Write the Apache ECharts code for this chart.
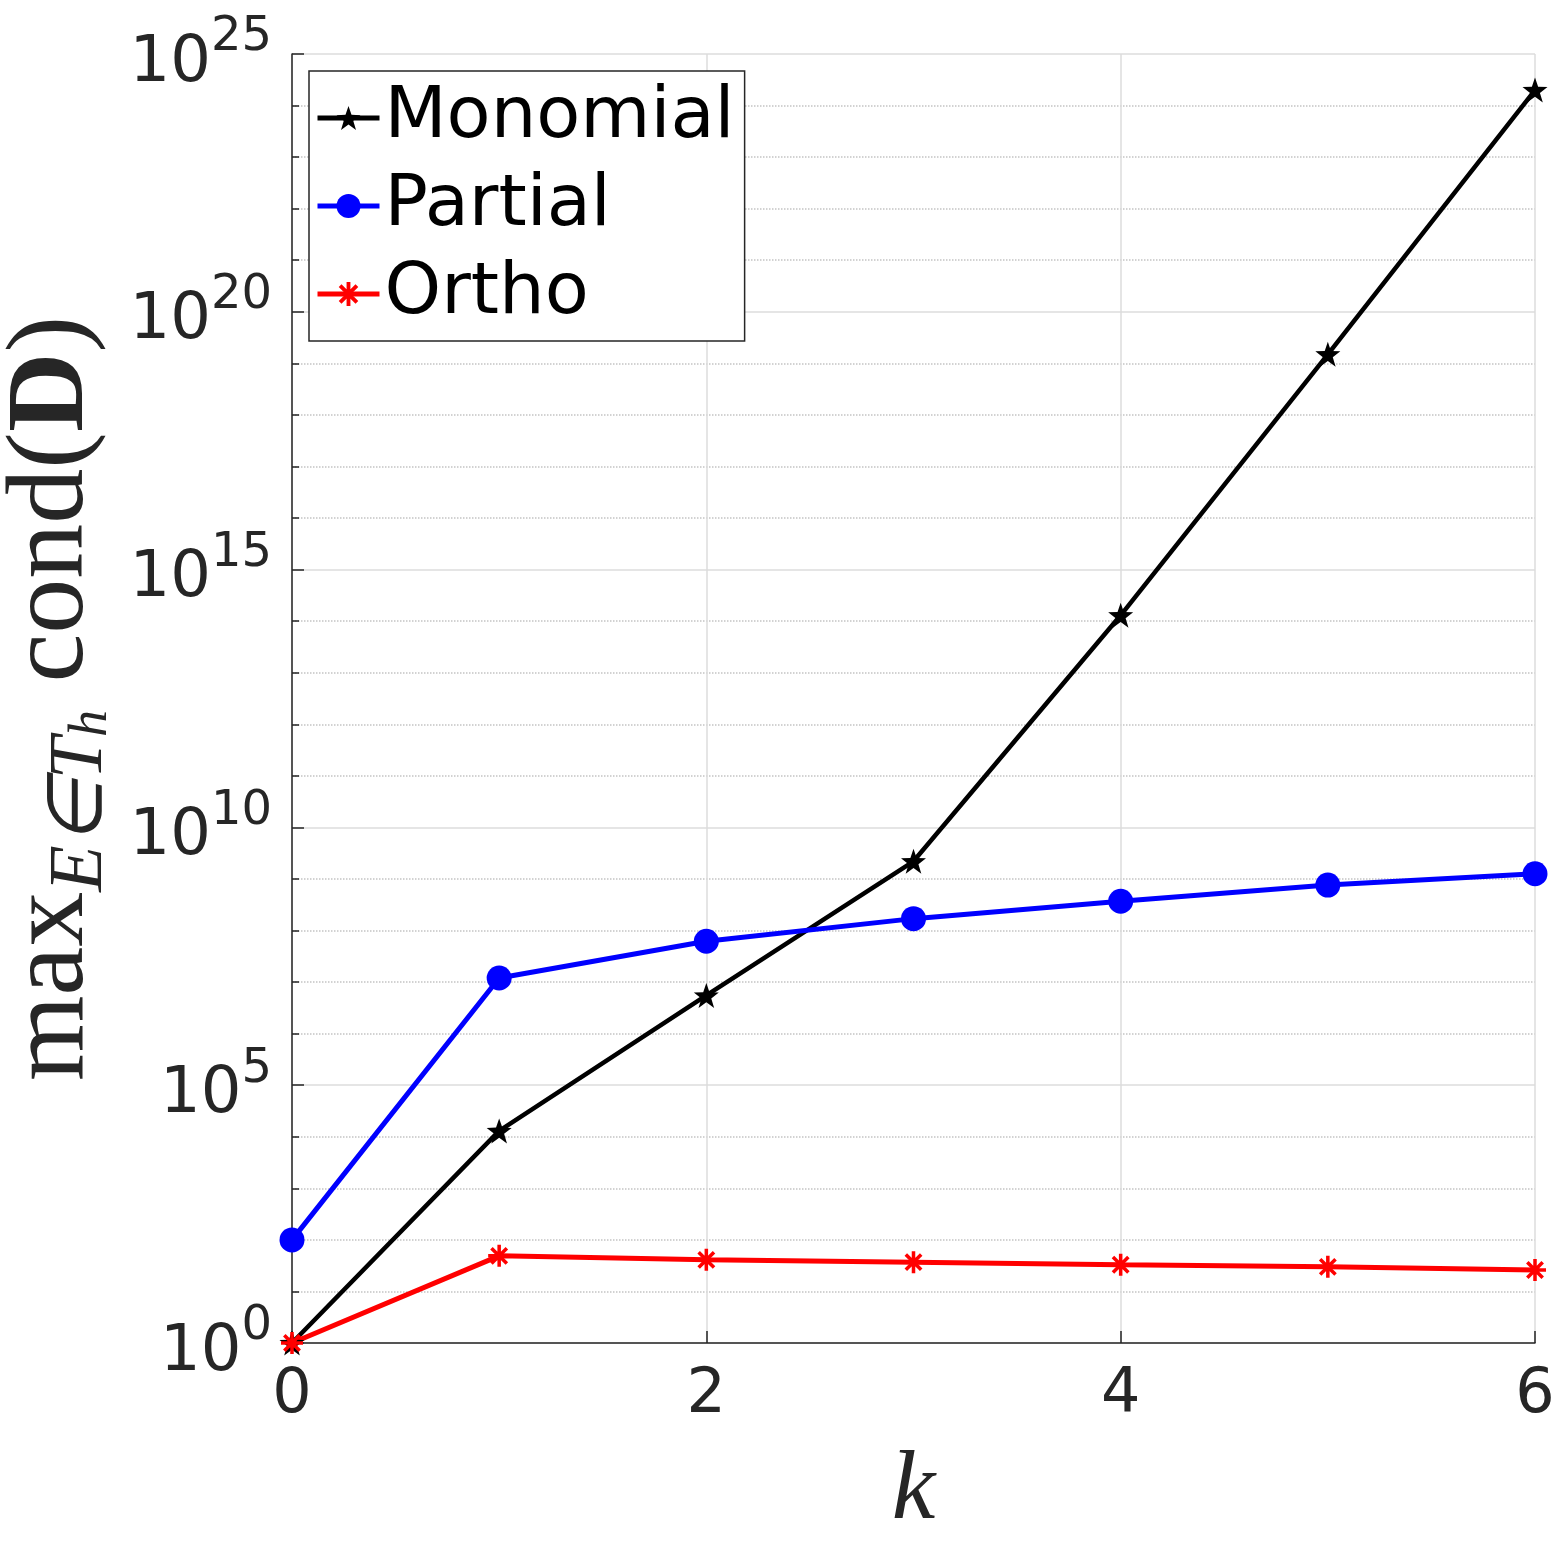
<!DOCTYPE html>
<html>
<head>
<meta charset="utf-8">
<script src="https://cdn.jsdelivr.net/npm/echarts@6/dist/echarts.min.js"></script>
<style>
  html, body { margin: 0; padding: 0; background: #fff; }
  #main { width: 1563px; height: 1563px; }
</style>
</head>
<body>
<div id="main"></div>
<script>
// polynomial degree k
const kValues = [0, 1, 2, 3, 4, 5, 6];

// max condition number per basis
const monomial = [1, 1.3e4, 5.5e6, 2.2e9, 1.3e14, 1.5e19, 2.0e24];
const partial = [1.0e2, 1.2e7, 6.2e7, 1.7e8, 3.7e8, 7.6e8, 1.26e9];
const ortho = [1, 49, 41, 37, 33, 30, 26];

// tick labels (powers of ten on y, k on x)
const yTickPowers = [0, 5, 10, 15, 20, 25];
const xTicks = [0, 2, 4, 6];

const STAR = 'path://M50,0 L62,34 L98,35 L69,57 L80,92 L50,71 L20,92 L31,57 L2,35 L38,34 Z';
const ASTERISK = 'path://M42,0 L58,0 L58,100 L42,100 Z M0,42 L100,42 L100,58 L0,58 Z ' +
  'M20.7,9.3 L90.7,79.3 L79.3,90.7 L9.3,20.7 Z M90.7,20.7 L20.7,90.7 L9.3,79.3 L79.3,9.3 Z';

const axisColor = '#262626';

// y axis is plotted in log10 space, labels shown as 10^n
function toLog(arr) {
  return kValues.map((k, i) => [k, Math.log10(arr[i])]);
}

const chart = echarts.init(document.getElementById('main'));
chart.setOption({
  animation: false,
  grid: { left: 292, right: 28, top: 54, bottom: 220, containLabel: false, outerBoundsMode: 'none' },
  legend: {
    left: 309,
    top: 71,
    orient: 'vertical',
    padding: [11, 10, 11, 6],
    itemGap: 16,
    itemWidth: 62,
    itemHeight: 30,
    backgroundColor: '#fff',
    borderColor: axisColor,
    borderWidth: 1.5,
    lineStyle: { width: 5 },
    textStyle: { fontFamily: 'DejaVu Sans', fontSize: 72, lineHeight: 72, color: '#000' },
    data: ['Monomial', 'Partial', 'Ortho']
  },
  xAxis: {
    type: 'value',
    min: xTicks[0],
    max: xTicks[xTicks.length - 1],
    interval: 2,
    name: 'k',
    nameLocation: 'middle',
    nameGap: 100,
    nameTextStyle: { fontFamily: 'Liberation Serif', fontStyle: 'italic', fontSize: 98, color: axisColor },
    axisLine: { lineStyle: { color: axisColor, width: 1.5 } },
    axisTick: { inside: true, length: 12, lineStyle: { color: axisColor, width: 1.5 } },
    axisLabel: { margin: 22, fontFamily: 'DejaVu Sans', fontSize: 62, color: axisColor },
    splitLine: { show: true, lineStyle: { color: '#dcdcdc', width: 1.5 } }
  },
  yAxis: {
    type: 'value',
    min: yTickPowers[0],
    max: yTickPowers[yTickPowers.length - 1],
    interval: 5,
    name: '{m|max}{s|E∈T}{h|h}{m| cond(}{d|D}{m|)}',
    nameLocation: 'middle',
    nameRotate: 90,
    nameGap: 168,
    nameTextStyle: {
      rich: {
        m: { fontFamily: 'Liberation Serif', fontSize: 110, lineHeight: 130, color: axisColor },
        d: { fontFamily: 'Liberation Serif', fontWeight: 'bold', fontSize: 110, lineHeight: 130, color: axisColor },
        s: { fontFamily: 'Liberation Serif', fontStyle: 'italic', fontSize: 76, lineHeight: 74, verticalAlign: 'bottom', color: axisColor },
        h: { fontFamily: 'Liberation Serif', fontStyle: 'italic', fontSize: 54, lineHeight: 40, verticalAlign: 'bottom', color: axisColor }
      }
    },
    axisLine: { show: true, lineStyle: { color: axisColor, width: 1.5 } },
    axisTick: { inside: true, length: 12, lineStyle: { color: axisColor, width: 1.5 } },
    minorTick: { show: true, splitNumber: 5, length: 7, lineStyle: { color: axisColor, width: 1.5 } },
    axisLabel: {
      margin: 20,
      padding: [20, 0, 0, 0],
      formatter: v => '{b|10}{s|' + v + '}',
      rich: {
        b: { fontFamily: 'DejaVu Sans', fontSize: 64, lineHeight: 100, color: axisColor },
        s: { fontFamily: 'DejaVu Sans', fontSize: 48, lineHeight: 46, verticalAlign: 'top', color: axisColor }
      }
    },
    splitLine: { show: true, lineStyle: { color: '#dcdcdc', width: 1.5 } },
    minorSplitLine: { show: true, lineStyle: { color: '#c4c4c4', width: 1.5, type: 'dotted' } }
  },
  series: [
    {
      name: 'Monomial',
      type: 'line',
      data: toLog(monomial),
      clip: false,
      symbol: STAR,
      symbolSize: 25,
      lineStyle: { color: '#000', width: 4.5 },
      itemStyle: { color: '#000' }
    },
    {
      name: 'Partial',
      type: 'line',
      data: toLog(partial),
      clip: false,
      symbol: 'circle',
      symbolSize: 25,
      lineStyle: { color: '#0000ff', width: 5 },
      itemStyle: { color: '#0000ff' }
    },
    {
      name: 'Ortho',
      type: 'line',
      data: toLog(ortho),
      clip: false,
      symbol: ASTERISK,
      symbolSize: 22,
      lineStyle: { color: '#ff0000', width: 5 },
      itemStyle: { color: '#ff0000' }
    }
  ]
});
</script>
</body>
</html>
